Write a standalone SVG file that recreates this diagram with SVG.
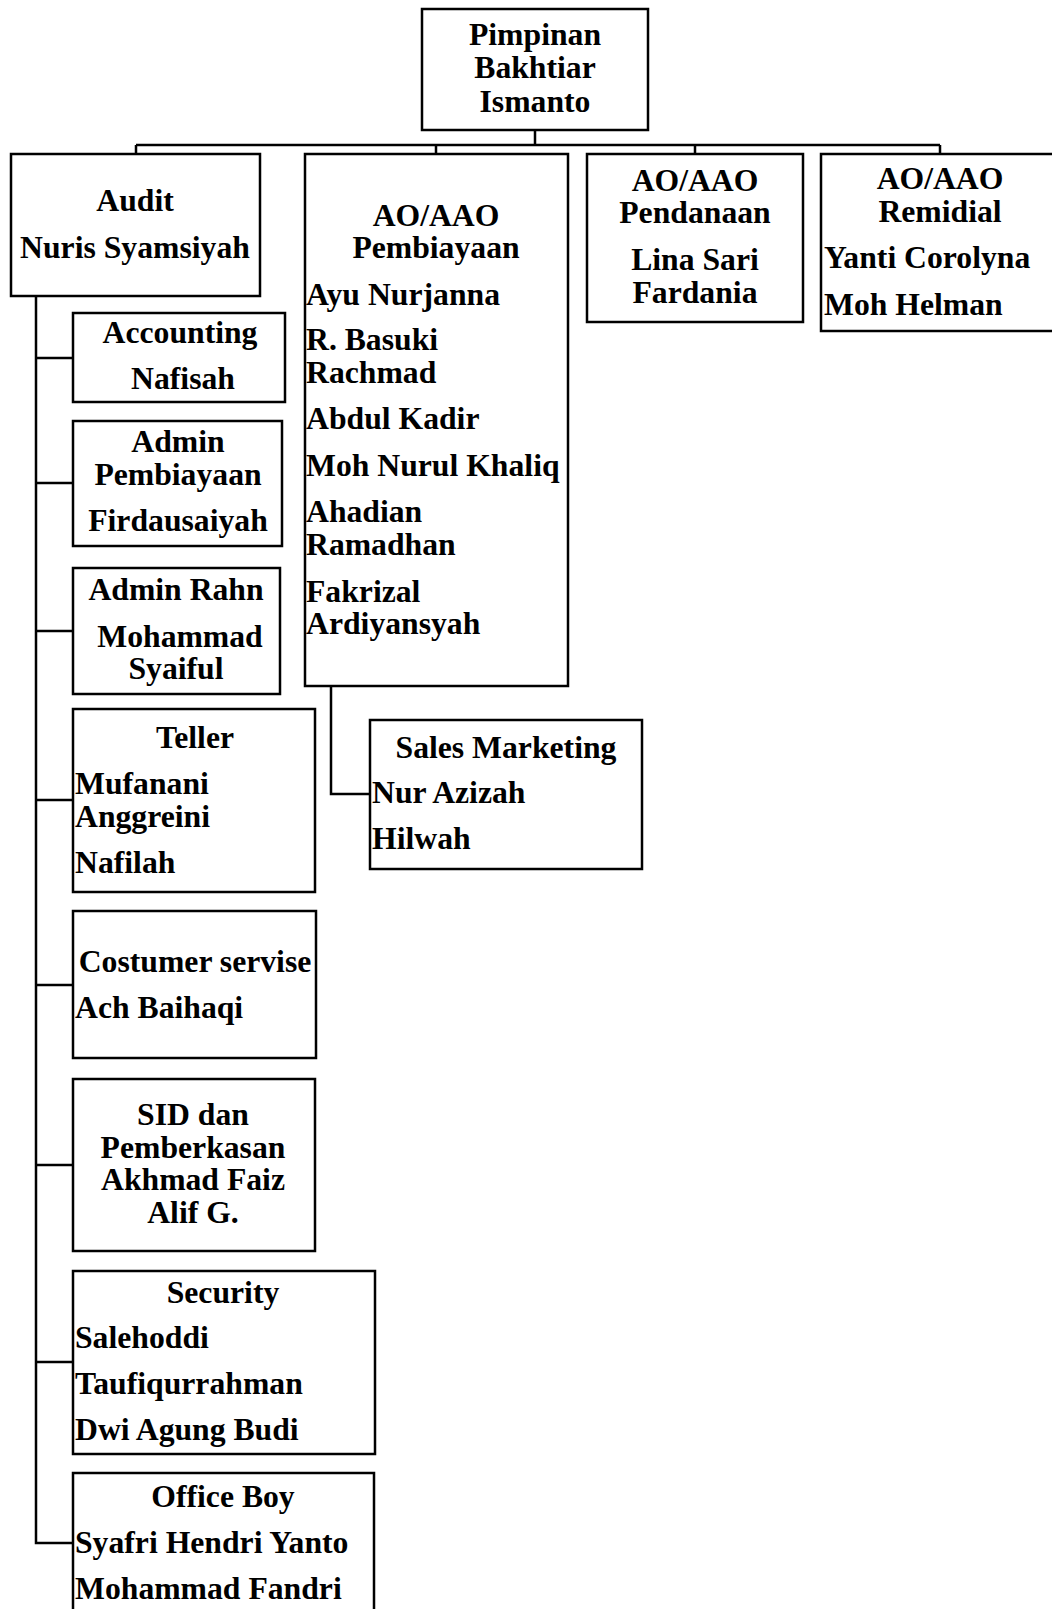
<svg xmlns="http://www.w3.org/2000/svg" width="1052" height="1609" viewBox="0 0 1052 1609">
<style>
rect{fill:#fff;stroke:#000;stroke-width:2.5}
text{font-family:"Liberation Serif","Times New Roman",serif;font-weight:bold;font-size:31.7px;fill:#000}
.c{text-anchor:middle}
.l{text-anchor:start}
#connectors path{fill:none;stroke:#000;stroke-width:2.5}
</style>
<g id="connectors">
<path d="M535 130V145M136 145H940M136 145V154M436 145V154M695 145V154M940 145V154"/>
<path d="M36 296V1543H73M36 358H73M36 483H73M36 631H73M36 800H73M36 985H73M36 1165H73M36 1362H73"/>
<path d="M331 686V794H370"/>
</g>
<g id="pimpinan">
<rect x="422" y="9" width="226" height="121"/>
<text class="c" x="535" y="45">Pimpinan</text>
<text class="c" x="535" y="78">Bakhtiar</text>
<text class="c" x="535" y="112">Ismanto</text>
</g>
<g id="audit">
<rect x="11" y="154" width="249" height="142"/>
<text class="c" x="135" y="211">Audit</text>
<text class="c" x="135" y="258">Nuris Syamsiyah</text>
</g>
<g id="pembiayaan">
<rect x="305" y="154" width="263" height="532"/>
<text class="c" x="436" y="226">AO/AAO</text>
<text class="c" x="436" y="258">Pembiayaan</text>
<text class="l" x="306" y="305">Ayu Nurjanna</text>
<text class="l" x="306" y="350">R. Basuki</text>
<text class="l" x="306" y="383">Rachmad</text>
<text class="l" x="306" y="429">Abdul Kadir</text>
<text class="l" x="306" y="476">Moh Nurul Khaliq</text>
<text class="l" x="306" y="522">Ahadian</text>
<text class="l" x="306" y="555">Ramadhan</text>
<text class="l" x="306" y="602">Fakrizal</text>
<text class="l" x="306" y="634">Ardiyansyah</text>
</g>
<g id="pendanaan">
<rect x="587" y="154" width="216" height="168"/>
<text class="c" x="695" y="191">AO/AAO</text>
<text class="c" x="695" y="223">Pendanaan</text>
<text class="c" x="695" y="270">Lina Sari</text>
<text class="c" x="695" y="303">Fardania</text>
</g>
<g id="remidial">
<rect x="821" y="154" width="240" height="177"/>
<text class="c" x="940" y="189">AO/AAO</text>
<text class="c" x="940" y="222">Remidial</text>
<text class="l" x="824" y="268">Yanti Corolyna</text>
<text class="l" x="824" y="315">Moh Helman</text>
</g>
<g id="accounting">
<rect x="73" y="313" width="212" height="89"/>
<text class="c" x="180" y="343">Accounting</text>
<text class="c" x="183" y="389">Nafisah</text>
</g>
<g id="admin-pembiayaan">
<rect x="73" y="421" width="209" height="125"/>
<text class="c" x="178" y="452">Admin</text>
<text class="c" x="178" y="485">Pembiayaan</text>
<text class="c" x="178" y="531">Firdausaiyah</text>
</g>
<g id="admin-rahn">
<rect x="73" y="568" width="207" height="126"/>
<text class="c" x="176" y="600">Admin Rahn</text>
<text class="c" x="180" y="647">Mohammad</text>
<text class="c" x="176" y="679">Syaiful</text>
</g>
<g id="teller">
<rect x="73" y="709" width="242" height="183"/>
<text class="c" x="195" y="748">Teller</text>
<text class="l" x="75" y="794">Mufanani</text>
<text class="l" x="75" y="827">Anggreini</text>
<text class="l" x="75" y="873">Nafilah</text>
</g>
<g id="sales-marketing">
<rect x="370" y="720" width="272" height="149"/>
<text class="c" x="506" y="758">Sales Marketing</text>
<text class="l" x="372" y="803">Nur Azizah</text>
<text class="l" x="372" y="849">Hilwah</text>
</g>
<g id="costumer-servise">
<rect x="73" y="911" width="243" height="147"/>
<text class="c" x="195" y="972">Costumer servise</text>
<text class="l" x="75" y="1018">Ach Baihaqi</text>
</g>
<g id="sid">
<rect x="73" y="1079" width="242" height="172"/>
<text class="c" x="193" y="1125">SID dan</text>
<text class="c" x="193" y="1158">Pemberkasan</text>
<text class="c" x="193" y="1190">Akhmad Faiz</text>
<text class="c" x="193" y="1223">Alif G.</text>
</g>
<g id="security">
<rect x="73" y="1271" width="302" height="183"/>
<text class="c" x="223" y="1303">Security</text>
<text class="l" x="75" y="1348">Salehoddi</text>
<text class="l" x="75" y="1394">Taufiqurrahman</text>
<text class="l" x="75" y="1440">Dwi Agung Budi</text>
</g>
<g id="office-boy">
<rect x="73" y="1473" width="301" height="150"/>
<text class="c" x="223" y="1507">Office Boy</text>
<text class="l" x="75" y="1553">Syafri Hendri Yanto</text>
<text class="l" x="75" y="1599">Mohammad Fandri</text>
</g>
</svg>
